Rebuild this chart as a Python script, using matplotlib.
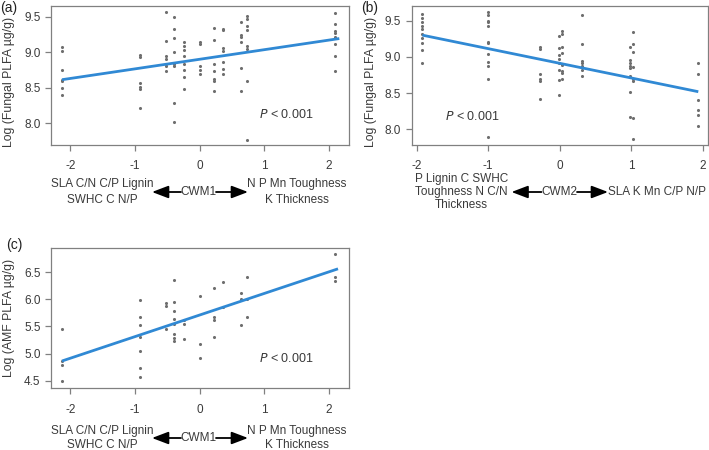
import matplotlib
matplotlib.use("Agg")
import matplotlib.pyplot as plt
from matplotlib.patches import FancyArrowPatch
import numpy as np

plt.rcParams['font.family'] = ['Liberation Sans', 'DejaVu Sans']

# ---------------- data ----------------
a_cwm = [-2.13, -0.92, -0.52, -0.39, -0.25, 0.00, 0.22, 0.36, 0.64, 0.73, 2.10]
a_vals = [
    [9.07, 9.02, 8.75, 8.61, 8.59, 8.49, 8.40],
    [8.96, 8.93, 8.57, 8.51, 8.48, 8.22],
    [9.57, 9.16, 8.94, 8.91, 8.84, 8.80, 8.73],
    [9.50, 9.33, 9.20, 9.00, 8.84, 8.81, 8.29, 8.01],
    [9.14, 9.08, 9.03, 8.94, 8.84, 8.75, 8.65, 8.48],
    [9.14, 9.12, 8.81, 8.75, 8.69],
    [9.34, 9.17, 8.83, 8.74, 8.62, 8.60, 8.45],
    [9.32, 9.31, 9.06, 9.02, 8.86, 8.76, 8.69],
    [9.42, 9.24, 9.22, 9.15, 8.78, 8.45],
    [9.51, 9.46, 9.37, 9.31, 9.08, 9.05, 8.59, 7.77],
    [9.55, 9.39, 9.30, 9.27, 9.22, 9.12, 8.95, 8.74],
]
a_fit = [8.90, 0.135, -2.13, 2.16]  # intercept, slope, x start, x end

b_cwm = [-1.92, -1.00, -0.27, -0.01, 0.03, 0.31, 0.98, 1.03, 1.93]
b_vals = [
    [9.59, 9.53, 9.48, 9.43, 9.38, 9.31, 9.26, 9.19, 9.09, 8.92],
    [9.62, 9.58, 9.50, 9.48, 9.42, 9.21, 9.19, 9.04, 8.93, 8.87, 8.70, 7.90],
    [9.14, 9.11, 8.76, 8.70, 8.66, 8.42],
    [9.28, 9.12, 9.03, 8.97, 8.91, 8.82, 8.68, 8.47],
    [9.35, 9.32, 9.14, 9.05, 8.88, 8.81, 8.77, 8.69],
    [9.58, 9.18, 8.94, 8.91, 8.87, 8.82, 8.74],
    [9.14, 8.95, 8.92, 8.87, 8.84, 8.74, 8.51, 8.17],
    [9.34, 9.18, 9.06, 8.86, 8.70, 8.66, 8.15, 7.86],
    [8.92, 8.76, 8.41, 8.27, 8.20, 8.04],
]
b_fit = [8.91, -0.202, -1.92, 1.94]

c_cwm = [-2.13, -0.92, -0.52, -0.39, -0.25, 0.00, 0.22, 0.36, 0.64, 0.73, 2.10]
c_vals = [
    [5.45, 4.86, 4.78, 4.49],
    [5.99, 5.68, 5.53, 5.30, 5.04, 4.74, 4.56],
    [5.94, 5.87, 5.45],
    [6.35, 5.95, 5.79, 5.63, 5.55, 5.36, 5.28, 5.24],
    [5.62, 5.54, 5.27],
    [6.06, 5.18, 4.91],
    [6.20, 5.67, 5.61, 5.30],
    [6.32, 5.85],
    [6.11, 6.00, 5.53],
    [6.41, 6.00, 5.67],
    [6.84, 6.41, 6.34],
]
c_fit = [5.71, 0.398, -2.13, 2.14]

xticks_ac = [-2, -1, 0, 1, 2]
yticks_ab = [8.0, 8.5, 9.0, 9.5]
yticks_c = [4.5, 5.0, 5.5, 6.0, 6.5]

# ---------------- layout ----------------
W, H = 709, 450
fig = plt.figure(figsize=(W / 100, H / 100), dpi=100)

def rect(l, t, r, b):
    return [l / W, 1 - b / H, (r - l) / W, (b - t) / H]

def fx(x):
    return x / W

def fy(y):
    return 1 - y / H

GREY = '#808080'
TXT = '#3a3a3a'
BLUE = '#3089d4'
PT = '#6e6e6e'

def panel(r, cwm, vals, fit, xlim, ylim, yticks, ylabel, ylab_xy,
          letter, letter_xy, ptxt):
    ax = fig.add_axes(rect(*r))
    xs = np.concatenate([[x] * len(v) for x, v in zip(cwm, vals)])
    ys = np.concatenate([np.asarray(v, float) for v in vals])
    ax.scatter(xs, ys, s=5, color=PT, linewidths=0, zorder=3)
    xl = np.array([fit[2], fit[3]])
    ax.plot(xl, fit[0] + fit[1] * xl, color=BLUE, lw=2.0, zorder=4,
            solid_capstyle='butt')
    ax.set_xlim(*xlim)
    ax.set_ylim(*ylim)
    ax.set_xticks(xticks_ac)
    ax.set_xticklabels([str(t) for t in xticks_ac])
    ax.set_yticks(yticks)
    ax.set_yticklabels([f'{t:.1f}' for t in yticks])
    for s in ax.spines.values():
        s.set_color(GREY)
        s.set_linewidth(0.9)
    ax.tick_params(axis='both', colors=GREY, labelcolor=TXT, labelsize=8.5,
                   length=4.5, width=0.9, pad=3)
    ax.tick_params(axis='x', pad=7)
    ax.set_ylabel(ylabel, fontsize=8.8, color=TXT)
    l, t, rr, b = r
    # ylab_xy: right edge (x) and vertical centre (y) of the label, in pixels
    ax.yaxis.set_label_coords((ylab_xy[0] - l) / (rr - l),
                              (b - ylab_xy[1]) / (b - t))
    ax.text(ptxt[0], ptxt[1], r'$\it{P}$ < 0.001', transform=ax.transAxes,
            fontsize=9, color=TXT, ha='center', va='center')
    fig.text(fx(letter_xy[0]), fy(letter_xy[1]), letter, fontsize=10,
             color='#222222', ha='left', va='center')
    return ax

axa = panel((51, 6, 349, 144.5), a_cwm, a_vals, a_fit, (-2.30, 2.31), (7.70, 9.65),
            yticks_ab, 'Log (Fungal PLFA µg/g)', (15, 82), '(a)', (0, 8),
            (0.79, 0.215))
axb = panel((411.7, 6, 708.3, 144.5), b_cwm, b_vals, b_fit, (-2.07, 2.08), (7.79, 9.70),
            yticks_ab, 'Log (Fungal PLFA µg/g)', (377, 82), '(b)', (361, 8),
            (0.205, 0.205))
axc = panel((51, 248.3, 349, 387.7), c_cwm, c_vals, c_fit, (-2.30, 2.31), (4.37, 6.94),
            yticks_c, 'Log (AMF PLFA µg/g)', (15, 318), '(c)', (6, 245),
            (0.79, 0.21))

def axis_caption(yc, left_txt, lx, mid_txt, mx, right_txt, rx, la, ra, ls=1.25):
    kw = dict(fontsize=8.5, color=TXT, va='center', linespacing=ls)
    fig.text(fx(lx), fy(yc), left_txt, ha='center', multialignment='center', **kw)
    fig.text(fx(mx), fy(yc), mid_txt, ha='center', **kw)
    fig.text(fx(rx), fy(yc), right_txt, ha='center', multialignment='center', **kw)
    for (x0, x1) in (la, ra):
        arr = FancyArrowPatch((fx(x0), fy(yc)), (fx(x1), fy(yc)),
                              transform=fig.transFigure,
                              arrowstyle='-|>,head_length=10,head_width=3.8',
                              mutation_scale=1, color='black', lw=1.3,
                              shrinkA=0, shrinkB=0)
        fig.patches.append(arr)

axis_caption(192, 'SLA C/N C/P Lignin\nSWHC C N/P', 102.5, 'CWM1', 198.5,
             'N P Mn Toughness\nK Thickness', 297, (181, 152), (216, 248), ls=1.35)
axis_caption(192, 'P Lignin C SWHC\nToughness N C/N\nThickness', 461.5, 'CWM2', 559,
             'SLA K Mn C/P N/P', 657.5, (541.5, 511.5), (577, 608), ls=1.15)
axis_caption(438, 'SLA C/N C/P Lignin\nSWHC C N/P', 102.5, 'CWM1', 198.5,
             'N P Mn Toughness\nK Thickness', 297, (181, 152), (216, 248), ls=1.2)

fig.savefig('out.png', dpi=100)
